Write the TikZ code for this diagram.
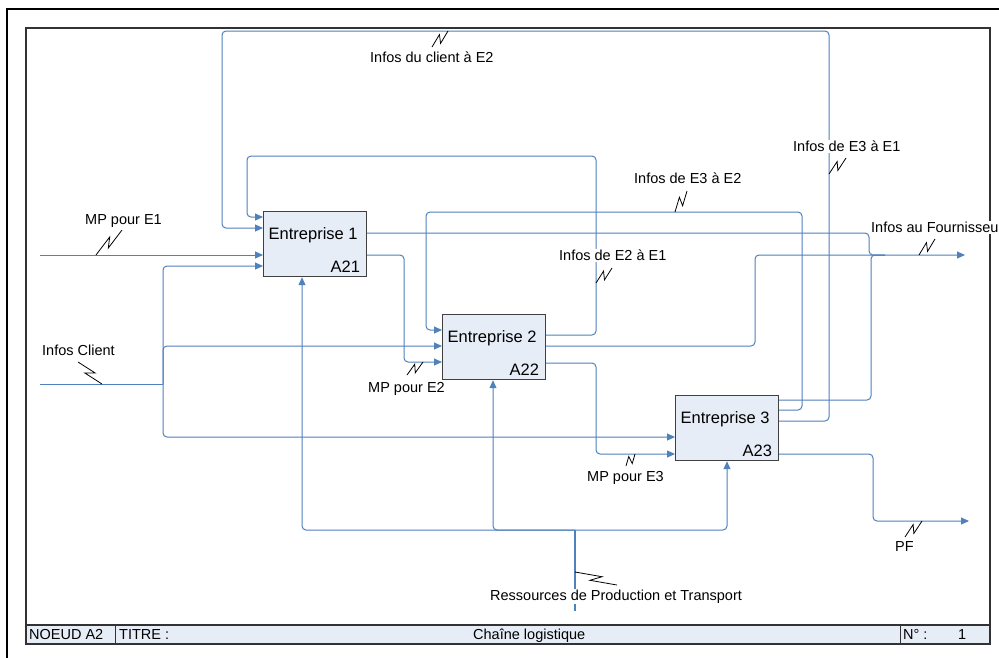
\documentclass[tikz,border=0pt]{standalone}
\usepackage{fontspec}
\setmainfont{Liberation Sans}
\usetikzlibrary{arrows.meta,calc}
\definecolor{flowblue}{RGB}{79,129,189}
\definecolor{boxfill}{RGB}{231,237,247}
\definecolor{barfill}{RGB}{231,237,247}
\definecolor{boxline}{RGB}{64,64,64}
\definecolor{framec}{RGB}{50,50,50}
\tikzset{
 flow/.style={draw=flowblue, line width=1pt, rounded corners=4pt},
 flowarrow/.style={flow, -{Triangle[length=8pt,width=7pt]}},
 box/.style={draw=boxline, fill=boxfill, line width=1.2pt, minimum width=103pt, minimum height=65pt, anchor=north west, inner sep=0pt},
 lbl/.style={font=\fontsize{14.5}{16}\selectfont, fill=white, inner xsep=1pt, inner ysep=1pt, anchor=base west},
 boxtxt/.style={font=\fontsize{16.5}{18}\selectfont, inner sep=0pt},
 squig/.style={draw=black, line width=0.8pt},
 bartxt/.style={font=\fontsize{14.5}{16}\selectfont, inner sep=0pt, anchor=base west},
}
\newcommand\squigline[2]{\draw[squig] (#1) -- ($(#1)!0.62!(#2)!3.5pt!90:(#2)$) -- ($(#1)!0.38!(#2)!3.5pt!-90:(#2)$) -- (#2);}
\begin{document}
\begin{tikzpicture}[x=1pt,y=-1pt]
\useasboundingbox (0,0) rectangle (999,657);
\fill[white] (0,0) rectangle (999,657);
% frames
\draw[line width=2.5pt] (7,680) -- (7,9) -- (1020,9);
\fill[barfill] (26,625) rectangle (990,644);
\draw[framec, line width=1.2pt] (26,28) rectangle (990,644);
\draw[framec, line width=1.2pt] (26,625) -- (990,625);
\draw[framec, line width=1pt] (115,625) -- (115,644);
\draw[framec, line width=1pt] (900,625) -- (900,644);
\node[bartxt] (tb1) at (29,639) {NOEUD A2};
\node[bartxt] (tb2) at (119,639) {TITRE :};
\node[bartxt] (tb3) at (473,639) {Chaîne logistique};
\node[bartxt] (tb4) at (903,639) {N° :};
\node[bartxt] (tb5) at (958,639) {1};
% boxes
\node[box] (e1) at (263,211) {};
\node[box] (e2) at (442,314) {};
\node[box] (e3) at (675,395) {};
\node[boxtxt, anchor=base west] (t1) at ($(e1.north west)+(5.5,28)$) {Entreprise 1};
\node[boxtxt, anchor=base east] (n1) at ($(e1.south east)+(-7,-5)$) {A21};
\node[boxtxt, anchor=base west] (t2) at ($(e2.north west)+(5.5,28)$) {Entreprise 2};
\node[boxtxt, anchor=base east] (n2) at ($(e2.south east)+(-7,-5)$) {A22};
\node[boxtxt, anchor=base west] (t3) at ($(e3.north west)+(5.5,28)$) {Entreprise 3};
\node[boxtxt, anchor=base east] (n3) at ($(e3.south east)+(-7,-5)$) {A23};
% inputs
\coordinate (mp1) at (40,255);
\draw[flowarrow] (mp1) -- (e1.west |- 0,255);
\coordinate (ic) at (40,384);
\coordinate (icj) at (163,384);
\draw[flow] (ic) -- (icj);
\draw[flowarrow] (icj) -- (163,266) -- (e1.west |- 0,266);
\draw[flowarrow] (icj) -- (163,346) -- (e2.west |- 0,346);
\draw[flowarrow] (icj) -- (163,437) -- (e3.west |- 0,437);
% feedback loops
\draw[flowarrow] (e3.east |- 0,421) -- (829,421) -- (829,31) -- (222,31) -- (222,228) -- (e1.west |- 0,228);
\draw[flowarrow] (e2.east |- 0,335) -- (596,335) -- (596,156) -- (247,156) -- (247,217) -- (e1.west |- 0,217);
\draw[flowarrow] (e3.east |- 0,410) -- (802,410) -- (802,212) -- (426,212) -- (426,330) -- (e2.west |- 0,330);
% material flows
\draw[flowarrow] (e1.east |- 0,255) -- (404,255) -- (404,362) -- (e2.west |- 0,362);
\draw[flowarrow] (e2.east |- 0,363) -- (596,363) -- (596,454) -- (e3.west |- 0,454);
% to supplier
\coordinate (four) at (965,255);
\draw[flowarrow] (e2.east |- 0,346) -- (755,346) -- (755,255) -- (four);
\draw[flow] (e1.east |- 0,233) -- (869,233) -- (869,255) -- (885,255);
\draw[flow] (e3.east |- 0,400) -- (871,400) -- (871,255) -- (885,255);
% PF
\coordinate (pf) at (969,521);
\draw[flowarrow] (e3.east |- 0,454) -- (873,454) -- (873,521) -- (pf);
% mechanisms
\coordinate (res) at (575,611);
\coordinate (resj) at (575,530);
\draw[flow, line width=1.5pt] (res) -- (resj);
\draw[flowarrow] (resj) -- (302,530) -- (e1.south -| 302,0);
\draw[flowarrow] (resj) -- (493,530) -- (e2.south -| 493,0);
\draw[flowarrow] (resj) -- (727,530) -- (e3.south -| 727,0);
% labels
\node[lbl] (l1) at (369,62) {Infos du client à E2};
\node[lbl] (l2) at (84,224) {MP pour E1};
\node[lbl] (l3) at (792,151.7) {Infos de E3 à E1};
\node[lbl] (l4) at (633,183.3) {Infos de E3 à E2};
\node[lbl] (l5) at (870,232.7) {Infos au Fournisseur};
\node[lbl] (l6) at (558,260.7) {Infos de E2 à E1};
\node[lbl] (l7) at (41,355.7) {Infos Client};
\node[lbl] (l8) at (367,392.7) {MP pour E2};
\node[lbl] (l9) at (586,481) {MP pour E3};
\node[lbl] (l10) at (894,551.7) {PF};
\node[lbl] (l11) at (489,600) {Ressources de Production et Transport};
% squiggles
\squigline{432,47}{448,31}
\squigline{122,230}{96,255}
\squigline{846,158}{829,174}
\squigline{687,191}{675,212}
\squigline{612,268}{596,283}
\squigline{935,239}{919,255}
\squigline{78,362}{102,384}
\squigline{407,375}{423,362}
\squigline{626,466}{635,454}
\squigline{905,537}{922,521}
\squigline{617,585}{575,572}
\end{tikzpicture}
\end{document}
